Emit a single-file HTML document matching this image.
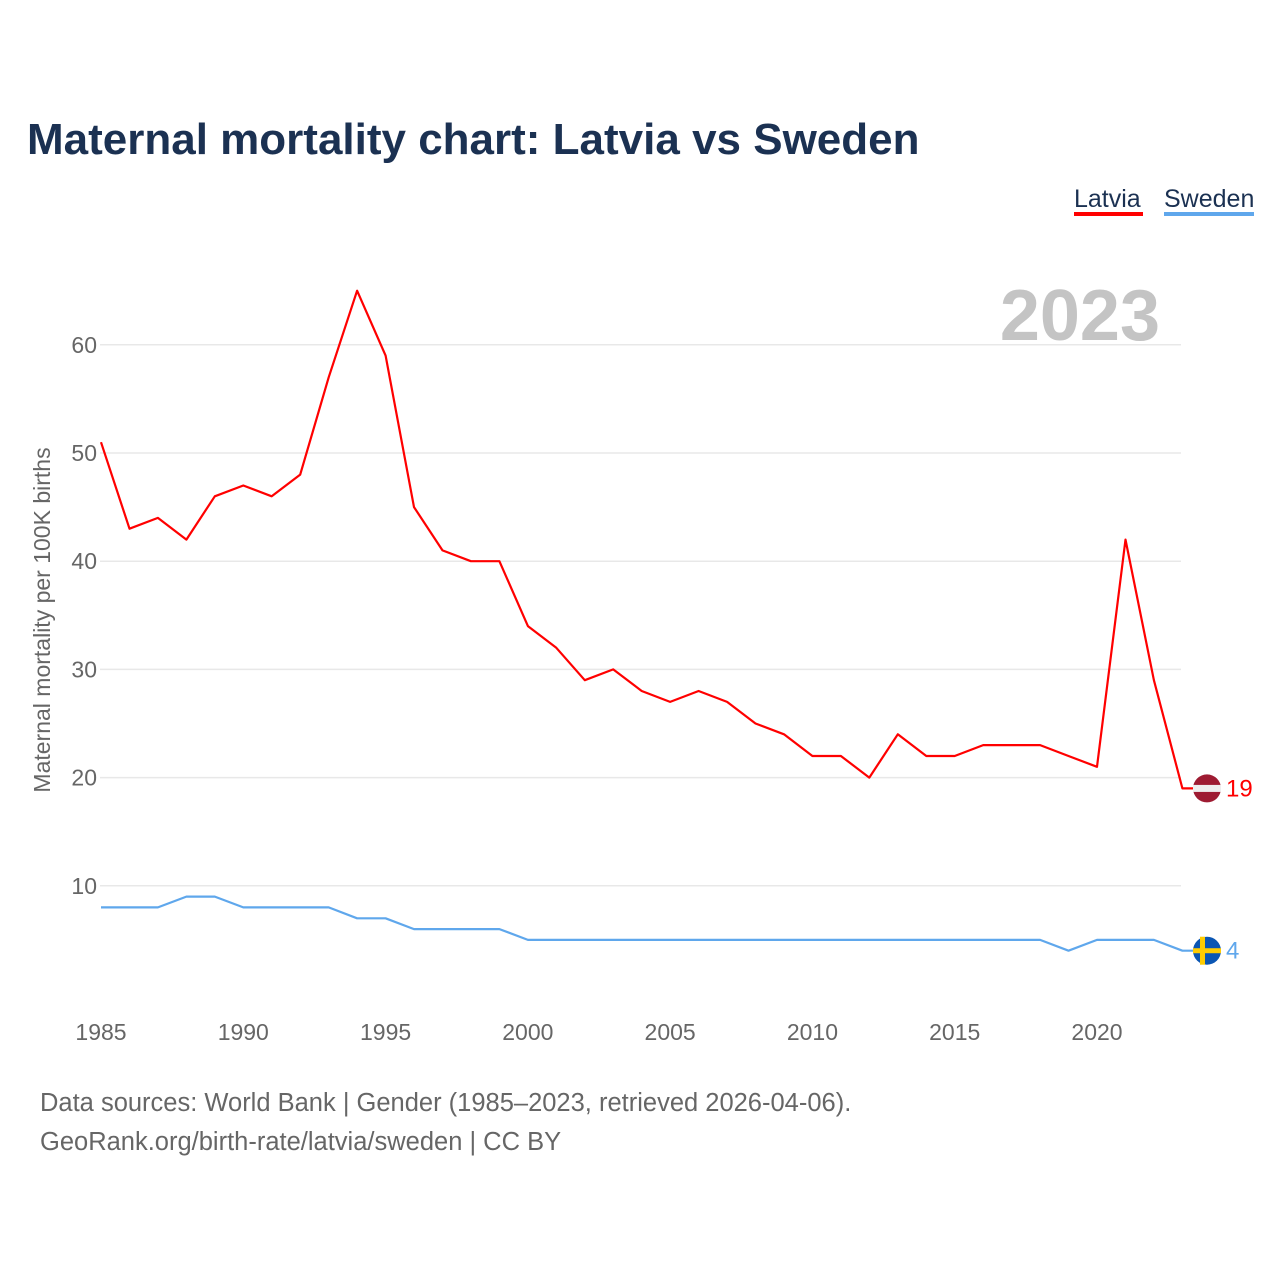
<!DOCTYPE html>
<html><head><meta charset="utf-8"><style>
body{margin:0;background:#fff;font-family:"Liberation Sans",sans-serif;}
</style></head><body>
<svg width="1280" height="1280" viewBox="0 0 1280 1280" xmlns="http://www.w3.org/2000/svg">
<text x="27" y="154" font-size="44" font-weight="bold" fill="#1b3152">Maternal mortality chart: Latvia vs Sweden</text>
<g><text x="1074" y="207" font-size="25" fill="#1b3152">Latvia</text><rect x="1074" y="212" width="69" height="4" fill="#ff0000"/></g>
<g><text x="1164" y="207" font-size="25" fill="#1b3152">Sweden</text><rect x="1164" y="212" width="90" height="4" fill="#5fa7ec"/></g>
<text x="1160" y="340" font-size="72" font-weight="bold" fill="#c4c4c4" text-anchor="end">2023</text>
<g id="grid"></g><g id="axes"></g><g id="lines"></g>
<text transform="translate(50,620) rotate(-90)" font-size="23" fill="#666" text-anchor="middle">Maternal mortality per 100K births</text>
<text x="40" y="1111" font-size="25.5" fill="#666">Data sources: World Bank | Gender (1985–2023, retrieved 2026-04-06).</text>
<text x="40" y="1150" font-size="25.5" fill="#666">GeoRank.org/birth-rate/latvia/sweden | CC BY</text>
</svg>
<script>
const years=[];for(let y=1985;y<=2023;y++)years.push(y);
const latvia=[51,43,44,42,46,47,46,48,57,65,59,45,41,40,40,34,32,29,30,28,27,28,27,25,24,22,22,20,24,22,22,23,23,23,22,21,42,29,19];
const sweden=[8,8,8,9,9,8,8,8,8,7,7,6,6,6,6,5,5,5,5,5,5,5,5,5,5,5,5,5,5,5,5,5,5,5,4,5,5,5,4];
const yTicks=[10,20,30,40,50,60];
const xTicks=[1985,1990,1995,2000,2005,2010,2015,2020];
const NS="http://www.w3.org/2000/svg";
const X=y=>101+(y-1985)*(996/35);
const Y=v=>994-v*10.82;
function mk(t,a,p){const e=document.createElementNS(NS,t);for(const k in a)e.setAttribute(k,a[k]);p.appendChild(e);return e;}
const grid=document.getElementById('grid'),axes=document.getElementById('axes'),lines=document.getElementById('lines');
yTicks.forEach(v=>{
 const l=mk('line',{x1:100,x2:1181,y1:Y(v),y2:Y(v),stroke:'#e8e8e8','stroke-width':1.5},grid);
 
 
 const t=mk('text',{x:97,y:Y(v)+8,'font-size':23,fill:'#666','text-anchor':'end'},axes);t.textContent=v;
 
 
});
xTicks.forEach(v=>{
 const t=mk('text',{x:X(v),y:1040,'font-size':23,fill:'#666','text-anchor':'middle'},axes);t.textContent=v;
 
 
});
function series(vals,color,name){
 const pts=vals.map((v,i)=>X(years[i]).toFixed(1)+','+Y(v).toFixed(1));
 const last=vals[vals.length-1];
 pts.push('1200,'+Y(last).toFixed(1));
 const p=mk('polyline',{points:pts.join(' '),fill:'none',stroke:color,'stroke-width':2.2,'stroke-linejoin':'round'},lines);
 
 
 return Y(last);
}
const ly=series(latvia,'#ff0000','latvia');
const sy=series(sweden,'#5fa7ec','sweden');
const lf=mk('g',{},lines);


mk('circle',{cx:1207,cy:ly,r:14,fill:'#9e1b32'},lf);
mk('rect',{x:1193,y:ly-3.5,width:28,height:7,fill:'#eee'},lf);
const lt=mk('text',{x:1226,y:ly+8,'font-size':24,fill:'#ff0000'},lines);lt.textContent=latvia[latvia.length-1];


const sf=mk('g',{},lines);


mk('circle',{cx:1207,cy:sy,r:14,fill:'#0b56b3'},sf);
mk('rect',{x:1200,y:sy-14,width:5,height:28,fill:'#fecc02'},sf);
mk('rect',{x:1193,y:sy-2.5,width:28,height:5,fill:'#fecc02'},sf);
const st=mk('text',{x:1226,y:sy+8,'font-size':24,fill:'#5fa7ec'},lines);st.textContent=sweden[sweden.length-1];


</script>
</body></html>
